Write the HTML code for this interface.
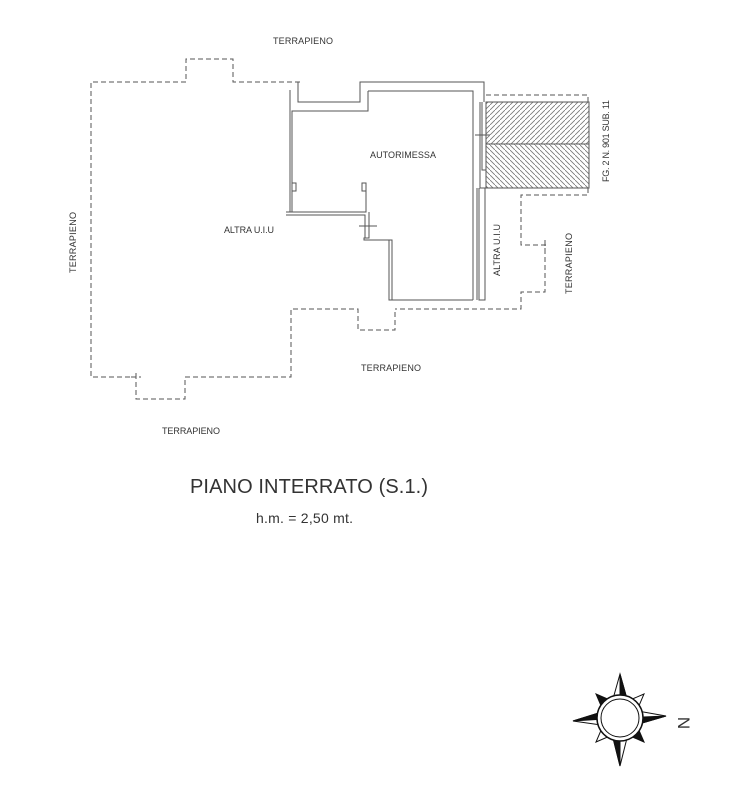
<!DOCTYPE html>
<html><head><meta charset="utf-8"><style>
html,body{margin:0;padding:0;background:#fff;}
svg{display:block;}
text{font-family:"Liberation Sans",sans-serif;fill:#333;}
</style></head><body>
<svg width="731" height="800" viewBox="0 0 731 800" xmlns="http://www.w3.org/2000/svg">
<defs>
<pattern id="h1" width="5" height="5" patternUnits="userSpaceOnUse"><path d="M-1,6 L6,-1" stroke="#777" stroke-width="0.8"/></pattern>
<pattern id="h2" width="5" height="5" patternUnits="userSpaceOnUse"><path d="M-1,-1 L6,6" stroke="#777" stroke-width="0.8"/></pattern>
</defs>
<g fill="none" stroke="#555" stroke-width="1" stroke-dasharray="5,3">
<path d="M300,82 H233 V59 H186 V82 H91 V377 H136 V399 H185 V377 H291 V309 H358 V330 H395 V309"/>
<path d="M486,95 H588 V102"/>
<path d="M588,188 V195 H521 V245 H545 V292 H521 V309 H395"/>
<path d="M136,373 V381 M131,377 H141 M545,240 V250 M541,245 H549"/>
</g>
<g fill="none" stroke="#555" stroke-width="1">
<path d="M298,82 V102 H360 V82 H484 V102"/>
<path d="M368,91 V111 H292 V212"/>
<path d="M290,90 V212"/>
<path d="M368,91 H473 V300"/>
<path d="M286,212 H366 V183 H362 V191 H366"/>
<path d="M286,215 H365 V238"/>
<path d="M369,212 V238 H364 V240 H392 V300 H473"/>
<path d="M389,240 V300 H395"/>
<path d="M292,183 H296 V191 H292"/>
<path d="M480,102 V188 H485 V300 H479 V188 M477,188 V300"/>
<path d="M482,102 V170 H486 M486,102 V170"/>
<path d="M359,226 H377 M475,135 H490"/>
</g>
<rect x="486" y="102" width="103" height="42" fill="url(#h1)" stroke="#555"/>
<rect x="486" y="144" width="103" height="44" fill="url(#h2)" stroke="#555"/>
<g font-size="9">
<text x="273" y="44" textLength="60">TERRAPIENO</text>
<text x="361" y="371" textLength="60">TERRAPIENO</text>
<text x="162" y="434" textLength="58">TERRAPIENO</text>
<text x="224" y="233" textLength="50">ALTRA U.I.U</text>
<text x="370" y="158" textLength="66">AUTORIMESSA</text>
<text transform="translate(76,273) rotate(-90)" textLength="61">TERRAPIENO</text>
<text transform="translate(500,276) rotate(-90)" textLength="52">ALTRA U.I.U</text>
<text transform="translate(572,294) rotate(-90)" textLength="61">TERRAPIENO</text>
<text transform="translate(609,182) rotate(-90)" textLength="82">FG. 2 N. 901 SUB. 11</text>
</g>
<text x="190" y="493" font-size="20" fill="#222" textLength="238">PIANO INTERRATO (S.1.)</text>
<text x="256" y="523" font-size="14" fill="#222" textLength="97">h.m. = 2,50 mt.</text>
<g transform="translate(620,718)" stroke="#111" stroke-width="1">
<polygon points="0,-44 9,-12 0,0 -9,-12" fill="#fff"/>
<polygon points="0,-44 9,-12 0,0" fill="#111"/>
<polygon points="0,48 -9,12 0,0 9,12" fill="#fff"/>
<polygon points="0,48 -9,12 0,0" fill="#111"/>
<polygon points="-47,3 -12,-8 0,0 -12,8" fill="#fff"/>
<polygon points="-47,3 -12,-8 0,0" fill="#111"/>
<polygon points="46,-2 12,8 0,0 12,-8" fill="#fff"/>
<polygon points="46,-2 12,8 0,0" fill="#111"/>
<polygon points="-24,-24 -3,-15 -15,-3" fill="#111"/>
<polygon points="24,-24 3,-15 15,-3" fill="#fff"/>
<polygon points="24,24 15,3 3,15" fill="#111"/>
<polygon points="-24,24 -3,15 -15,3" fill="#fff"/>
<circle r="23" fill="#fff" stroke-width="1.5"/>
<circle r="19" fill="#fff"/>
</g>
<text transform="translate(678,723) rotate(90)" font-size="17" fill="#111" text-anchor="middle">N</text>
</svg>
</body></html>
